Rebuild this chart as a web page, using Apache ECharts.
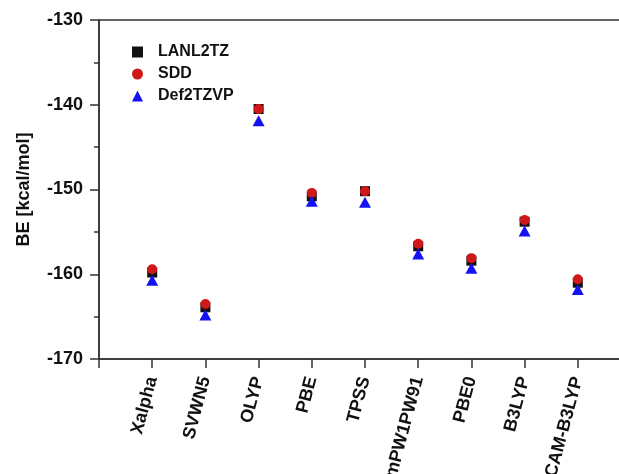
<!DOCTYPE html>
<html>
<head>
<meta charset="utf-8">
<script src="https://cdn.jsdelivr.net/npm/echarts@6/dist/echarts.min.js"></script>
<style>
  html, body { margin: 0; padding: 0; background: #fff; }
  #chart { width: 619px; height: 474px; }
</style>
</head>
<body>
<div id="chart"></div>
<script>
// functionals on the x axis (padded with blank slots at both ends)
const categories = ['Xalpha', 'SVWN5', 'OLYP', 'PBE', 'TPSS', 'mPW1PW91', 'PBE0', 'B3LYP', 'CAM-B3LYP']
const lanl2tz = [-159.8, -163.9, -140.5, -150.8, -150.2, -156.7, -158.4, -153.8, -161.0]
const sdd = [-159.4, -163.5, -140.5, -150.4, -150.2, -156.4, -158.1, -153.6, -160.6]
const def2tzvp = [-160.7, -164.8, -141.9, -151.4, -151.5, -157.6, -159.3, -154.9, -161.8]
const yTicks = [-170, -160, -150, -140, -130]

const font = "'Liberation Sans', Arial, sans-serif"
const axisColor = '#333'
const xData = [''].concat(categories, [' '])

function pairs (vals) {
  return categories.map((c, i) => [c, vals[i]])
}

const option = {
  animation: false,
  textStyle: { fontFamily: font },
  grid: {
    left: 99,
    width: 532, // right end runs past the canvas edge, as in the source figure
    top: 20,
    bottom: 115,
    outerBoundsMode: 'none',
    containLabel: false,
    show: true,
    borderColor: axisColor,
    borderWidth: 1.5
  },
  legend: {
    orient: 'vertical',
    left: 127,
    top: 39,
    itemWidth: 11,
    itemHeight: 11,
    itemGap: 6,
    textStyle: {
      fontFamily: font,
      fontWeight: 'bold',
      fontSize: 16,
      color: '#111',
      padding: [0, 0, 0, 10]
    },
    data: ['LANL2TZ', 'SDD', 'Def2TZVP']
  },
  xAxis: {
    type: 'category',
    data: xData,
    boundaryGap: false,
    axisLine: { lineStyle: { color: axisColor, width: 1.5 } },
    axisTick: { inside: false, length: 9, interval: 0, lineStyle: { color: axisColor, width: 1.5 } },
    axisLabel: {
      interval: 0,
      rotate: 75,
      margin: 18,
      fontFamily: font,
      fontWeight: 'bold',
      fontSize: 18,
      color: '#111'
    },
    splitLine: { show: false }
  },
  yAxis: {
    type: 'value',
    min: yTicks[0],
    max: yTicks[yTicks.length - 1],
    interval: 10,
    name: 'BE [kcal/mol]',
    nameLocation: 'middle',
    nameGap: 66,
    nameTextStyle: { fontFamily: font, fontWeight: 'bold', fontSize: 18, color: '#111' },
    axisLine: { show: true, lineStyle: { color: axisColor, width: 1.5 } },
    axisTick: { show: true, inside: false, length: 9, lineStyle: { color: axisColor, width: 1.5 } },
    minorTick: { show: true, splitNumber: 2, length: 5, lineStyle: { color: axisColor, width: 1.5 } },
    axisLabel: {
      margin: 16,
      fontFamily: font,
      fontWeight: 'bold',
      fontSize: 18,
      color: '#111'
    },
    splitLine: { show: false }
  },
  series: [
    {
      name: 'LANL2TZ',
      type: 'scatter',
      symbol: 'rect',
      symbolSize: 10,
      itemStyle: { color: '#111', opacity: 1 },
      data: pairs(lanl2tz)
    },
    {
      name: 'SDD',
      type: 'scatter',
      symbol: 'circle',
      symbolSize: 10,
      itemStyle: { color: '#d01818', opacity: 1 },
      data: pairs(sdd)
    },
    {
      name: 'Def2TZVP',
      type: 'scatter',
      symbol: 'triangle',
      symbolSize: [12, 11],
      itemStyle: { color: '#1212f5', opacity: 1 },
      data: pairs(def2tzvp)
    }
  ]
}

const myChart = echarts.init(document.getElementById('chart'), null, { renderer: 'canvas' })
myChart.setOption(option)
</script>
</body>
</html>
